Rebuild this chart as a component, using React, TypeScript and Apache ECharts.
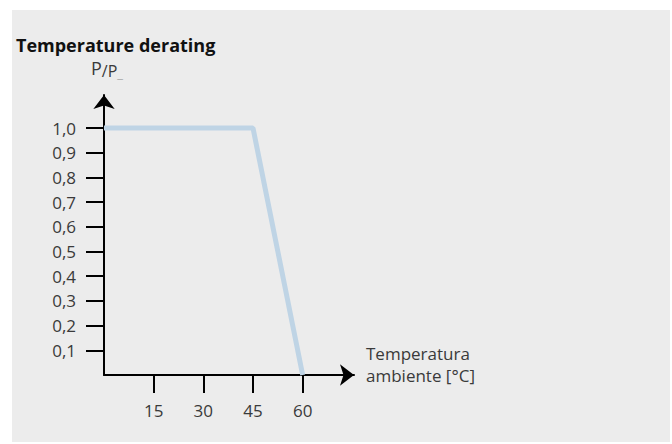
import React, { useEffect, useRef } from "react";
import * as echarts from "echarts";

const temperatures = [0, 45, 60];
const powerRatio = [1.0, 1.0, 0.0];
const xTickValues = [15, 30, 45, 60];
const yTickValues = [0.1, 0.2, 0.3, 0.4, 0.5, 0.6, 0.7, 0.8, 0.9, 1.0];

const FONT = "'Open Sans', 'Noto Sans', sans-serif";
const LABEL = "#3a3a3a";

export default function App() {
  const ref = useRef<HTMLDivElement>(null);
  useEffect(() => {
    if (!ref.current) return;
    const chart = echarts.init(ref.current, undefined, { renderer: "svg" });
    chart.setOption({
      animation: false,
      backgroundColor: "#ffffff",
      textStyle: { fontFamily: FONT },
      title: {
        text: "Temperature derating",
        left: 11,
        top: 31,
        textStyle: { fontFamily: FONT, fontSize: 18, fontWeight: "bold", color: "#111111" },
      },
      graphic: {
        elements: [
          {
            type: "rect",
            z: -100,
            silent: true,
            shape: { x: 12, y: 10, width: 658, height: 432 },
            style: { fill: "#ececec" },
          },
          {
            type: "text",
            x: 366,
            y: 342,
            silent: true,
            style: {
              text: "Temperatura\nambiente [°C]",
              fontFamily: FONT,
              fontSize: 17,
              lineHeight: 22,
              fill: LABEL,
              align: "left",
              verticalAlign: "top",
            },
          },
          {
            type: "text",
            x: 91,
            y: 59,
            silent: true,
            style: {
              text: "{p|P}{s|/P}{u|_}",
              align: "left",
              verticalAlign: "top",
              rich: {
                p: { fontFamily: FONT, fontSize: 18, lineHeight: 20, verticalAlign: "top", fill: LABEL },
                s: { fontFamily: FONT, fontSize: 16, lineHeight: 20, padding: [7, 0, 0, 0], verticalAlign: "bottom", fill: LABEL },
                u: { fontFamily: FONT, fontSize: 13, lineHeight: 20, padding: [7, 0, 0, 0], verticalAlign: "bottom", fill: "#a8a8a8" },
              },
            },
          },
        ],
      },
      grid: { left: 104, top: 95, width: 250, height: 280 },
      xAxis: {
        type: "value",
        min: 0,
        max: 75.5,
        splitLine: { show: false },
        axisLine: {
          show: true,
          lineStyle: { color: "#000", width: 2 },
          symbol: ["none", "arrow"],
          symbolSize: [16, 14],
        },
        axisTick: {
          show: true,
          length: 18,
          lineStyle: { color: "#000", width: 2 },
          customValues: xTickValues,
        },
        axisLabel: {
          customValues: xTickValues,
          margin: 27,
          fontSize: 17,
          color: LABEL,
          fontFamily: FONT,
        },
      },
      yAxis: {
        type: "value",
        min: 0,
        max: 1.134,
        splitLine: { show: false },
        axisLine: {
          show: true,
          lineStyle: { color: "#000", width: 2 },
          symbol: ["none", "arrow"],
          symbolSize: [16, 14],
        },
        axisTick: {
          show: true,
          length: 18,
          lineStyle: { color: "#000", width: 2 },
          customValues: yTickValues,
        },
        axisLabel: {
          customValues: yTickValues,
          margin: 28,
          fontSize: 17,
          color: LABEL,
          fontFamily: FONT,
          formatter: (v: number) => v.toFixed(1).replace(".", ","),
        },
      },
      series: [
        {
          type: "line",
          data: temperatures.map((t, i) => [t, powerRatio[i]]),
          symbol: "none",
          lineStyle: { color: "#bfd4e5", width: 5 },
          z: 1,
        },
      ],
    });
    return () => chart.dispose();
  }, []);
  return (
    <div
      ref={ref}
      style={{ position: "fixed", left: 0, top: 0, width: 672, height: 444 }}
    />
  );
}
